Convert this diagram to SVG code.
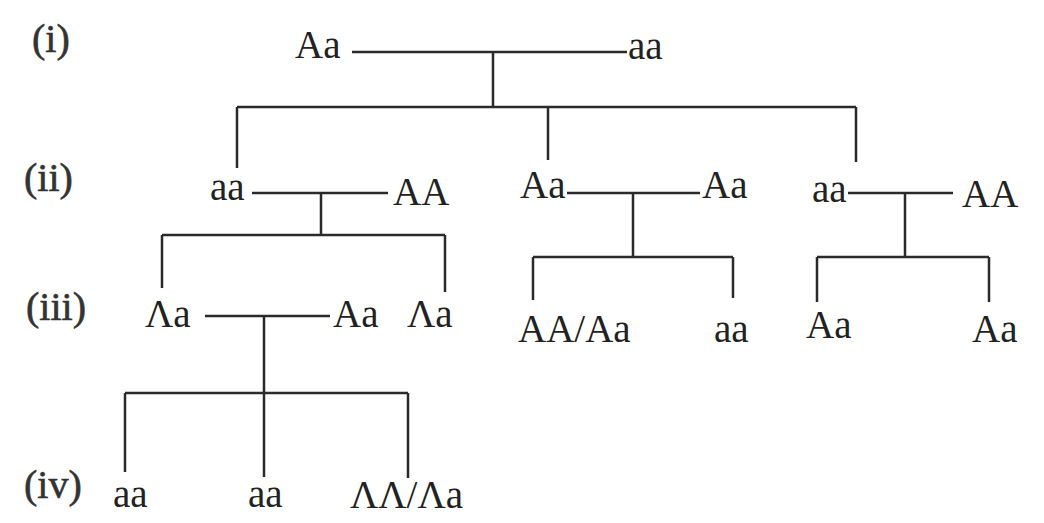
<svg xmlns="http://www.w3.org/2000/svg" width="1044" height="523" viewBox="0 0 1044 523">
<style>
.t{font-family:"Liberation Serif","Times New Roman",serif;font-size:39px;fill:#222}
.lbl{font-family:"Liberation Serif","Times New Roman",serif;font-size:40px;fill:#333;stroke:#333;stroke-width:0.6}
.c{fill:none;stroke:#2a2a2a;stroke-width:2.5}
</style>
<rect width="1044" height="523" fill="#fff"/>
<g id="labels">
<text class="lbl" x="32" y="52">(i)</text>
<text class="lbl" x="24" y="191">(ii)</text>
<text class="lbl" x="26" y="320">(iii)</text>
<text class="lbl" x="24" y="498">(iv)</text>
</g>
<g id="connectors" class="c">
<path d="M352 52H627M493 52V107M237 107H856M237 107V168M548 107V160M856 107V162"/>
<path d="M252 193H388M321 193V235M162 235H445M162 235V288M445 235V292"/>
<path d="M567 193H700M633 193V257M533 257H733M533 257V300M733 257V298"/>
<path d="M848 193H953M905 193V257M817 257H989M817 257V302M989 257V302"/>
<path d="M205 316H330M264 316V393M125 393H408M125 393V472M264 393V477M408 393V478"/>
</g>
<g id="n_i_1"><text class="t" x="295" y="58">Aa</text></g>
<g id="n_i_2"><text class="t" x="628" y="59">aa</text></g>
<g id="n_ii_1"><text class="t" x="210" y="200">aa</text></g>
<g id="n_ii_2"><text class="t" x="393" y="205">AA</text></g>
<g id="n_ii_3"><text class="t" x="520" y="198">Aa</text></g>
<g id="n_ii_4"><text class="t" x="702" y="198">Aa</text></g>
<g id="n_ii_5"><text class="t" x="812" y="202">aa</text></g>
<g id="n_ii_6"><text class="t" x="962" y="207">AA</text></g>
<g id="n_iii_1"><text class="t" x="145" y="327">Λa</text></g>
<g id="n_iii_2"><text class="t" x="333" y="327">Aa</text></g>
<g id="n_iii_3"><text class="t" x="407" y="327">Λa</text></g>
<g id="n_iii_4"><text class="t" x="518" y="342">AA/Aa</text></g>
<g id="n_iii_5"><text class="t" x="714" y="342">aa</text></g>
<g id="n_iii_6"><text class="t" x="806" y="338">Aa</text></g>
<g id="n_iii_7"><text class="t" x="972" y="342">Aa</text></g>
<g id="n_iv_1"><text class="t" x="113" y="507">aa</text></g>
<g id="n_iv_2"><text class="t" x="248" y="507">aa</text></g>
<g id="n_iv_3"><text class="t" x="350" y="508">ΛΛ/Λa</text></g>
</svg>
